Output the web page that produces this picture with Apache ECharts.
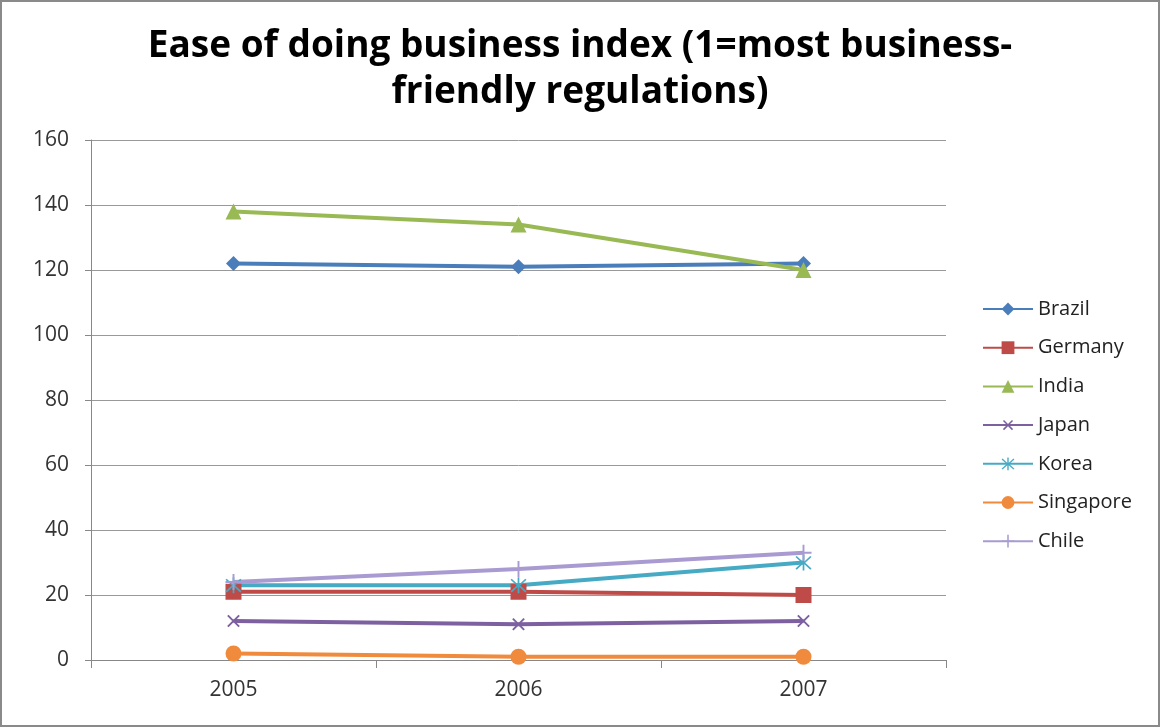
<!DOCTYPE html>
<html><head><meta charset="utf-8">
<script src="https://cdn.jsdelivr.net/npm/echarts@6/dist/echarts.min.js"></script>
<style>html,body{margin:0;padding:0;background:#fff}#c{width:1160px;height:727px;box-sizing:border-box;border:2px solid #8a8a8a;}</style>
</head><body><div id="c"></div>
<script>
const years = ['2005','2006','2007'];
const brazil = [122,121,122];
const germany = [21,21,20];
const india = [138,134,120];
const japan = [12,11,12];
const korea = [23,23,30];
const singapore = [2,1,1];
const chile = [24,28,33];
const yTicks = [0,20,40,60,80,100,120,140,160];

const plus = 'path://M4.4,0H5.6V4.4H10V5.6H5.6V10H4.4V5.6H0V4.4H4.4Z';
const star = 'path://M4.5,0H5.5V4.3L8.9,0.9L9.6,1.6L6,5.2L9.6,8.8L8.9,9.5L5.5,6.1V10H4.5V6.1L1.1,9.5L0.4,8.8L4,5.2L0.4,1.6L1.1,0.9L4.5,4.3Z';

function s(name, data, color, symbol, size, rot){
  return {name, type:'line', data, color, symbol, symbolSize:size, symbolRotate:rot||0,
    lineStyle:{width:4,color}, itemStyle:{color}, showSymbol:true};
}
const chart = echarts.init(document.getElementById('c'));
chart.setOption({
  animation:false,
  title:{text:'Ease of doing business index (1=most business-\nfriendly regulations)', left:'center', top:16,
    textStyle:{fontFamily:'Open Sans', fontWeight:'bold', fontSize:37, lineHeight:46, color:'#000'}},
  grid:{left:89, right:212, top:138, bottom:65},
  legend:{orient:'vertical', left:975, top:292, itemGap:18.7, itemWidth:50, itemHeight:16,
    textStyle:{fontFamily:'Open Sans', fontSize:20, lineHeight:20, color:'#222'},
    data:['Brazil','Germany','India','Japan','Korea','Singapore','Chile']},
  xAxis:{type:'category', data:years, boundaryGap:true,
    axisLine:{lineStyle:{color:'#888',width:1}},
    axisTick:{show:true, length:8, lineStyle:{color:'#888'}},
    axisLabel:{fontFamily:'Open Sans', fontSize:21, color:'#333', margin:20}},
  yAxis:{type:'value', min:yTicks[0], max:yTicks[yTicks.length-1], interval:20,
    axisLine:{show:true, lineStyle:{color:'#888'}},
    axisTick:{show:true, length:6, lineStyle:{color:'#888'}},
    axisLabel:{fontFamily:'Open Sans', fontSize:21, color:'#333', margin:22},
    splitLine:{lineStyle:{color:'#999',width:1}}},
  series:[
    s('Brazil', brazil, '#4A7EBB', 'diamond', 15),
    s('Germany', germany, '#BE4B48', 'rect', 16),
    s('India', india, '#98B954', 'triangle', 16),
    s('Japan', japan, '#7D60A0', plus, 16, 45),
    s('Korea', korea, '#46AAC5', star, 16),
    s('Singapore', singapore, '#F08A3C', 'circle', 16),
    s('Chile', chile, '#A99BD1', plus, 16)
  ]
});
</script></body></html>
